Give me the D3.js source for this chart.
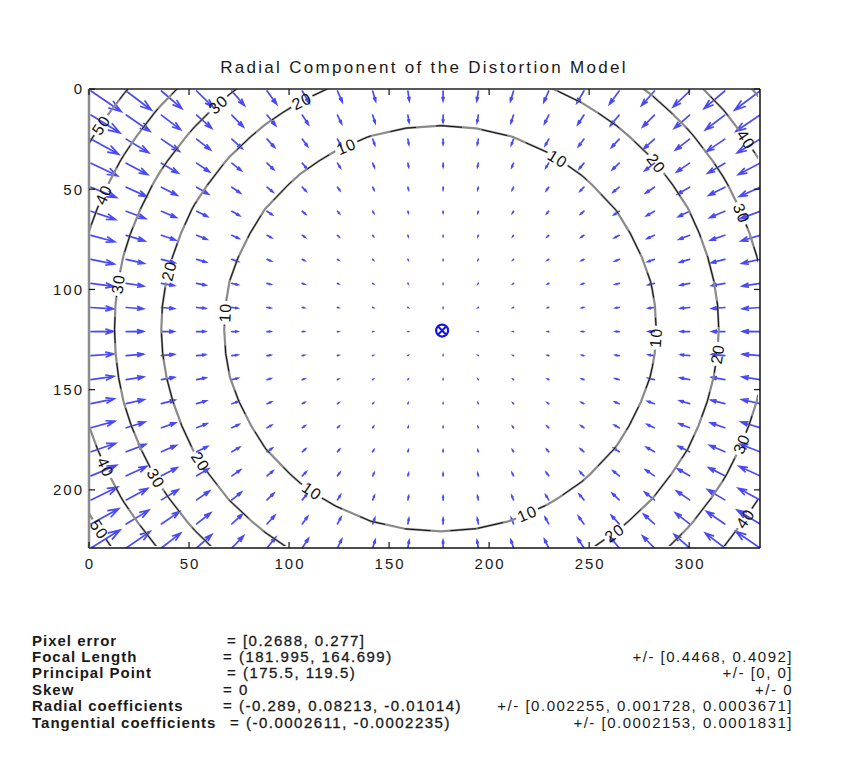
<!DOCTYPE html>
<html>
<head>
<meta charset="utf-8">
<script src="https://cdn.jsdelivr.net/npm/d3@7/dist/d3.min.js"></script>
<style>
	body { margin: 0; background: #fff; }
	text { font-family: 'Liberation Sans', Arial, sans-serif; }
</style>
</head>
<body>
<script>
// calibration results, as printed under the figure
const imgSize = [352, 240]
const focal = [181.995, 164.699]
const principal = [175.5, 119.5]
const radial = [-0.289, 0.08213, -0.01014]
const gridCount = 20

const levels = [10, 20, 30, 40, 50]
const xTicks = [0, 50, 100, 150, 200, 250, 300]
const yTicks = [0, 50, 100, 150, 200]

// where clabel put its numbers (level, x, y in image pixels)
const labelLevels = [50, 40, 30, 20, 10, 30, 20, 10, 40, 30, 20, 10, 50, 10, 20, 40, 30, 10, 20, 30, 40, 20, 10]
const labelX = [4.5, 5.5, 64, 106.5, 129, 12, 39, 66.5, 6.5, 35.5, 54, 111.5, 5.5, 234.5, 282.5, 329.5, 327.5, 282, 312.5, 326, 327.5, 262, 219.5]
const labelY = [17, 52, 7, 6.5, 29.5, 97, 90.5, 111.5, 189.5, 193, 187, 200.5, 219.5, 34.5, 38, 24.5, 61.5, 124, 132, 177, 214, 220.5, 213]

const title = 'Radial Component of the Distortion Model'
const infoNames = ['Pixel error', 'Focal Length', 'Principal Point', 'Skew', 'Radial coefficients', 'Tangential coefficients']
const infoValues = ['= [0.2688, 0.277]', '= (181.995, 164.699)', '= (175.5, 119.5)', '= 0', '= (-0.289, 0.08213, -0.01014)', '= (-0.0002611, -0.0002235)']
const infoErrors = ['', '+/- [0.4468, 0.4092]', '+/- [0, 0]', '+/- 0', '+/- [0.002255, 0.001728, 0.0003671]', '+/- [0.0002153, 0.0001831]']
const infoValueX = [227, 223, 227, 223, 223, 230]

const W = 865, H = 763
const svg = d3.select('body').append('svg').attr('width', W).attr('height', H)

// sample grid, same as the toolbox meshgrid
const gx = d3.range(gridCount).map(i => i * imgSize[0] / gridCount)
const gy = d3.range(gridCount).map(j => j * imgSize[1] / gridCount)

// radial displacement of a pixel
const shift = (px, py) => {
	const xn = (px - principal[0]) / focal[0], yn = (py - principal[1]) / focal[1]
	const r2 = xn * xn + yn * yn
	const f = radial[0] * r2 + radial[1] * r2 * r2 + radial[2] * r2 * r2 * r2
	return [focal[0] * xn * f, focal[1] * yn * f]
}

const field = []
gy.forEach(py => gx.forEach(px => {
	const [dx, dy] = shift(px, py)
	field.push({ px, py, dx, dy, m: Math.hypot(dx, dy) })
}))

// axis tight
const xMax = d3.max(gx) + 1, yMax = d3.max(gy) + 1
const x = d3.scaleLinear().domain([0, xMax]).range([89, 760])
const y = d3.scaleLinear().domain([0, yMax]).range([89, 548])

const defs = svg.append('defs')
defs.append('clipPath').attr('id', 'plotclip')
	.append('rect').attr('x', x(0)).attr('y', y(0)).attr('width', x(xMax) - x(0)).attr('height', y(yMax) - y(0))
defs.append('clipPath').attr('id', 'gridclip')
	.append('rect').attr('x', x(0)).attr('y', y(0)).attr('width', x(d3.max(gx)) - x(0)).attr('height', y(d3.max(gy)) - y(0))

// quiver, matlab autoscale
const delx = (d3.max(gx) - d3.min(gx)) / gridCount
const dely = (d3.max(gy) - d3.min(gy)) / gridCount
const scale = 0.9 * Math.sqrt(delx * delx + dely * dely) / d3.max(field, d => d.m)
const al = 0.33, be = 0.33
const arrowPath = d => {
	const x0 = d.px + 1, y0 = d.py + 1
	const u = d.dx * scale, v = d.dy * scale
	const tx = x0 + u, ty = y0 + v
	const h1 = [tx - al * (u + be * v), ty - al * (v - be * u)]
	const h2 = [tx - al * (u - be * v), ty - al * (v + be * u)]
	return `M${x(x0)},${y(y0)}L${x(tx)},${y(ty)}M${x(h1[0])},${y(h1[1])}L${x(tx)},${y(ty)}L${x(h2[0])},${y(h2[1])}`
}
svg.append('g').attr('clip-path', 'url(#plotclip)')
	.selectAll('path.arrow').data(field).join('path')
	.attr('class', 'arrow')
	.attr('d', arrowPath)
	.attr('fill', 'none')
	.attr('stroke', '#1c1cf2')
	.attr('stroke-opacity', .8)
	.attr('stroke-width', 1.7)
	.attr('stroke-linecap', 'round')

// principal point 'o' and image centre 'x'
const cp = [x(principal[0] + 1), y(principal[1] + 1)]
const cx = [x((imgSize[0] - 1) / 2 + 1), y((imgSize[1] - 1) / 2 + 1)]
svg.append('circle').attr('cx', cp[0]).attr('cy', cp[1]).attr('r', 6)
	.attr('fill', 'none').attr('stroke', '#1414ee').attr('stroke-width', 2.2)
svg.append('path')
	.attr('d', `M${cx[0] - 4},${cx[1] - 4}L${cx[0] + 4},${cx[1] + 4}M${cx[0] - 4},${cx[1] + 4}L${cx[0] + 4},${cx[1] - 4}`)
	.attr('stroke', '#1414ee').attr('stroke-width', 2)

// contours of the displacement magnitude on the coarse grid
const contours = d3.contours().size([gridCount, gridCount]).thresholds(levels)(field.map(d => d.m))
const toScreen = (c, r) => [x((c - .5) * imgSize[0] / gridCount), y((r - .5) * imgSize[1] / gridCount)]
const proj = d3.geoTransform({ point: function (c, r) { const p = toScreen(c, r); this.stream.point(p[0], p[1]) } })
const geo = d3.geoPath(proj)

// label positions: nearest point on the interior part of the level's line
const onBorder = p => p[0] === 0 || p[1] === 0 || p[0] === gridCount || p[1] === gridCount
const labels = labelLevels.map((lv, i) => {
	const target = [x(labelX[i]), y(labelY[i])]
	const c = contours.find(k => k.value === lv)
	let best = null
	c.coordinates.forEach(poly => poly.forEach(ring => {
		for (let k = 1; k < ring.length; k++) {
			if (onBorder(ring[k - 1]) && onBorder(ring[k])) continue
			const a = toScreen(...ring[k - 1]), b = toScreen(...ring[k])
			const ex = b[0] - a[0], ey = b[1] - a[1]
			const len2 = ex * ex + ey * ey || 1
			const t = Math.max(0, Math.min(1, ((target[0] - a[0]) * ex + (target[1] - a[1]) * ey) / len2))
			const q = [a[0] + t * ex, a[1] + t * ey]
			const dist = Math.hypot(q[0] - target[0], q[1] - target[1])
			if (!best || dist < best.dist) best = { dist, q, ang: Math.atan2(ey, ex) * 180 / Math.PI }
		}
	}))
	let ang = best.ang
	if (ang > 90) ang -= 180
	if (ang < -90) ang += 180
	return { lv, x: best.q[0], y: best.q[1], ang }
})

// gaps in the lines under the labels
const mask = defs.append('mask').attr('id', 'labelgap').attr('maskUnits', 'userSpaceOnUse')
	.attr('x', 0).attr('y', 0).attr('width', W).attr('height', H)
mask.append('rect').attr('width', W).attr('height', H).attr('fill', '#fff')
mask.selectAll('rect.gap').data(labels).join('rect')
	.attr('class', 'gap')
	.attr('x', -12).attr('y', -7).attr('width', 24).attr('height', 14)
	.attr('transform', d => `translate(${d.x},${d.y}) rotate(${d.ang})`)
	.attr('fill', '#000')

const lineG = svg.append('g').attr('clip-path', 'url(#gridclip)')
	.append('g').attr('mask', 'url(#labelgap)')
lineG.selectAll('path.cgray').data(contours).join('path')
	.attr('class', 'cgray')
	.attr('d', geo)
	.attr('fill', 'none')
	.attr('stroke', '#8a8a8a')
	.attr('stroke-width', 2.2)
lineG.selectAll('path.cblack').data(contours).join('path')
	.attr('class', 'cblack')
	.attr('d', geo)
	.attr('fill', 'none')
	.attr('stroke', '#111')
	.attr('stroke-width', 1)
	.attr('stroke-dasharray', '26 20')

svg.append('g').selectAll('text').data(labels).join('text')
	.attr('transform', d => `translate(${d.x},${d.y}) rotate(${d.ang})`)
	.attr('text-anchor', 'middle')
	.attr('dy', '.36em')
	.style('font-size', '16px')
	.style('letter-spacing', '1px')
	.attr('fill', '#111')
	.text(d => d.lv)

// frame and ticks (matlab box, ticks inside)
const frame = svg.append('g')
const x0 = x(0), x1 = x(xMax), y0 = y(0), y1 = y(yMax)
frame.append('line').attr('x1', x0).attr('x2', x1).attr('y1', y0).attr('y2', y0).attr('stroke', '#222').attr('stroke-width', 1.5)
frame.append('line').attr('x1', x0).attr('x2', x1).attr('y1', y1).attr('y2', y1).attr('stroke', '#111').attr('stroke-width', 1.5)
frame.append('line').attr('x1', x1).attr('x2', x1).attr('y1', y0).attr('y2', y1).attr('stroke', '#111').attr('stroke-width', 1.5)
frame.append('line').attr('x1', x0).attr('x2', x0).attr('y1', y0).attr('y2', y1).attr('stroke', '#8c8c8c').attr('stroke-width', 2.5)

const tl = 6
xTicks.forEach(t => {
	frame.append('line').attr('x1', x(t)).attr('x2', x(t)).attr('y1', y1).attr('y2', y1 - tl).attr('stroke', '#111').attr('stroke-width', 1.2)
	frame.append('line').attr('x1', x(t)).attr('x2', x(t)).attr('y1', y0).attr('y2', y0 + tl).attr('stroke', '#111').attr('stroke-width', 1.2)
})
yTicks.forEach(t => {
	frame.append('line').attr('y1', y(t)).attr('y2', y(t)).attr('x1', x0).attr('x2', x0 + tl).attr('stroke', '#111').attr('stroke-width', 1.2)
	frame.append('line').attr('y1', y(t)).attr('y2', y(t)).attr('x1', x1).attr('x2', x1 - tl).attr('stroke', '#111').attr('stroke-width', 1.2)
})

svg.append('g').selectAll('text').data(xTicks).join('text')
	.attr('x', d => x(d) + 1).attr('y', 569)
	.attr('text-anchor', 'middle')
	.style('font-size', '15px').style('letter-spacing', '2px')
	.attr('fill', '#1a1a1a')
	.text(d => d)
svg.append('g').selectAll('text').data(yTicks).join('text')
	.attr('x', 84).attr('y', d => y(d)).attr('dy', '.36em')
	.attr('text-anchor', 'end')
	.style('font-size', '15px').style('letter-spacing', '2px')
	.attr('fill', '#1a1a1a')
	.text(d => d)

svg.append('text')
	.attr('x', 424).attr('y', 73)
	.attr('text-anchor', 'middle')
	.style('font-size', '17px').style('letter-spacing', '2.3px')
	.attr('fill', '#1a1a1a')
	.text(title)

// calibration summary
const info = svg.append('g').style('font-size', '15px').style('letter-spacing', '1.5px').attr('fill', '#1a1a1a')
const rowY = i => 645.5 + i * 16.4
info.selectAll('text.name').data(infoNames).join('text')
	.attr('class', 'name')
	.attr('x', 32).attr('y', (d, i) => rowY(i))
	.style('font-weight', 'bold')
	.style('letter-spacing', '1px')
	.text(d => d)
info.selectAll('text.val').data(infoValues).join('text')
	.attr('class', 'val')
	.attr('x', (d, i) => infoValueX[i]).attr('y', (d, i) => rowY(i))
	.attr('stroke', '#1a1a1a').attr('stroke-width', .3)
	.text(d => d)
info.selectAll('text.err').data(infoErrors).join('text')
	.attr('class', 'err')
	.attr('x', 793).attr('y', (d, i) => rowY(i))
	.attr('text-anchor', 'end')
	.text(d => d)
</script>
</body>
</html>
